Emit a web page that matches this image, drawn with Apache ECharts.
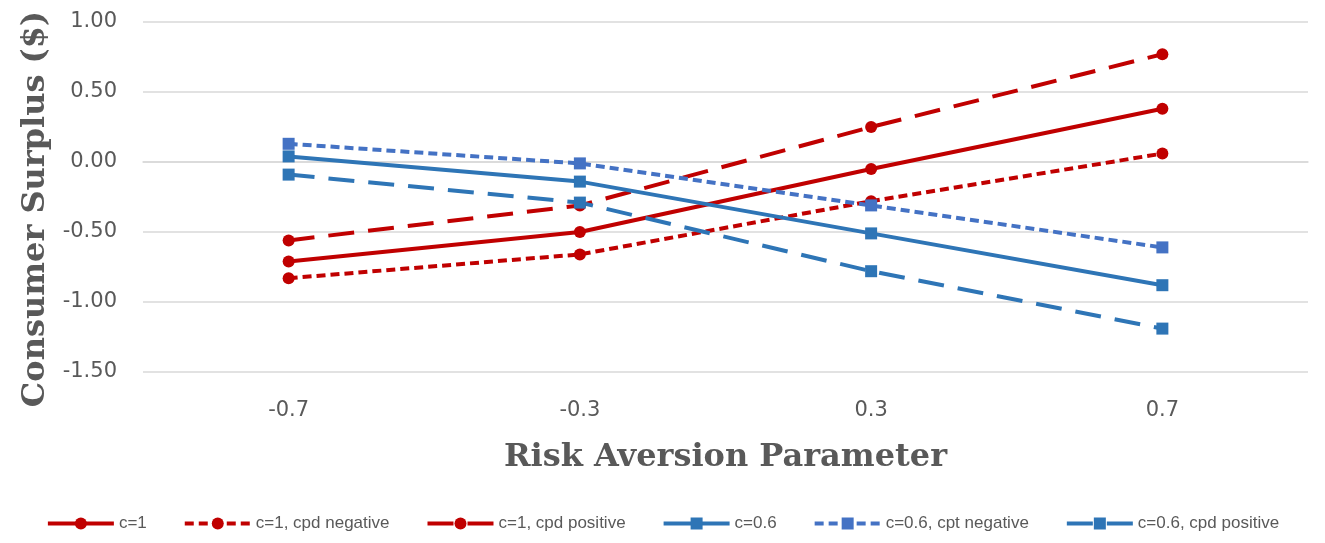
<!DOCTYPE html>
<html>
<head>
<meta charset="utf-8">
<script src="https://cdn.jsdelivr.net/npm/echarts@6/dist/echarts.min.js"></script>
<style>
  html, body { margin: 0; padding: 0; background: #ffffff; }
  #chart { width: 1325px; height: 543px; }
</style>
</head>
<body>
<div id="chart"></div>
<script>
// Risk aversion levels on the x axis
const categories = ['-0.7', '-0.3', '0.3', '0.7'];

// Consumer surplus ($) per scenario
const c1 = [-0.71, -0.50, -0.05, 0.38];
const c1CpdNegative = [-0.83, -0.66, -0.28, 0.06];
const c1CpdPositive = [-0.56, -0.31, 0.25, 0.77];
const c06 = [0.04, -0.14, -0.51, -0.88];
const c06CptNegative = [0.13, -0.01, -0.31, -0.61];
const c06CpdPositive = [-0.09, -0.29, -0.78, -1.19];

const RED = '#C00000';
const BLUE = '#2E75B6';
const BLUE_LIGHT = '#4472C4';
const SHORT_DASH = [9, 5];
const LONG_DASH = [26, 14];

function makeSeries(name, data, color, dash, symbol) {
  return {
    name: name,
    type: 'line',
    data: data,
    symbol: symbol,
    symbolSize: 12,
    showSymbol: true,
    itemStyle: { color: color },
    lineStyle: { color: color, width: 4, type: dash },
    emphasis: { disabled: true },
    z: 3
  };
}

const chart = echarts.init(document.getElementById('chart'), null, { renderer: 'canvas' });

chart.setOption({
  animation: false,
  backgroundColor: '#ffffff',
  grid: { left: 143, right: 17, top: 22, bottom: 171 },
  legend: {
    bottom: 6,
    left: 'center',
    itemWidth: 66,
    itemHeight: 15,
    itemGap: 36,
    lineStyle: { width: 4 },
    textStyle: { fontFamily: 'Liberation Sans', fontSize: 17, color: '#595959' },
    data: ['c=1', 'c=1, cpd negative', 'c=1, cpd positive', 'c=0.6', 'c=0.6, cpt negative', 'c=0.6, cpd positive']
  },
  xAxis: {
    type: 'category',
    data: categories,
    boundaryGap: true,
    axisLine: { show: true, lineStyle: { color: '#d9d9d9', width: 1.5 } },
    axisTick: { show: false },
    axisLabel: { margin: 28, fontFamily: 'DejaVu Sans', fontSize: 21, color: '#595959' },
    name: 'Risk Aversion Parameter',
    nameLocation: 'middle',
    nameGap: 70,
    nameTextStyle: { fontFamily: 'DejaVu Serif', fontWeight: 'bold', fontSize: 32, color: '#595959' }
  },
  yAxis: {
    type: 'value',
    min: -1.5,
    max: 1,
    interval: 0.5,
    axisLine: { show: false },
    axisTick: { show: false },
    splitLine: { lineStyle: { color: '#d9d9d9', width: 1.5 } },
    axisLabel: {
      margin: 26,
      fontFamily: 'DejaVu Sans',
      fontSize: 21,
      color: '#595959',
      formatter: v => v.toFixed(2)
    },
    name: 'Consumer Surplus ($)',
    nameLocation: 'middle',
    nameGap: 88,
    nameTextStyle: {
      fontFamily: 'DejaVu Serif',
      fontWeight: 'bold',
      fontSize: 32,
      color: '#595959',
      padding: [0, 24, 0, 0]
    }
  },
  series: [
    makeSeries('c=1', c1, RED, 'solid', 'circle'),
    makeSeries('c=1, cpd negative', c1CpdNegative, RED, SHORT_DASH, 'circle'),
    makeSeries('c=1, cpd positive', c1CpdPositive, RED, LONG_DASH, 'circle'),
    makeSeries('c=0.6', c06, BLUE, 'solid', 'rect'),
    makeSeries('c=0.6, cpt negative', c06CptNegative, BLUE_LIGHT, SHORT_DASH, 'rect'),
    makeSeries('c=0.6, cpd positive', c06CpdPositive, BLUE, LONG_DASH, 'rect')
  ]
});
</script>
</body>
</html>
